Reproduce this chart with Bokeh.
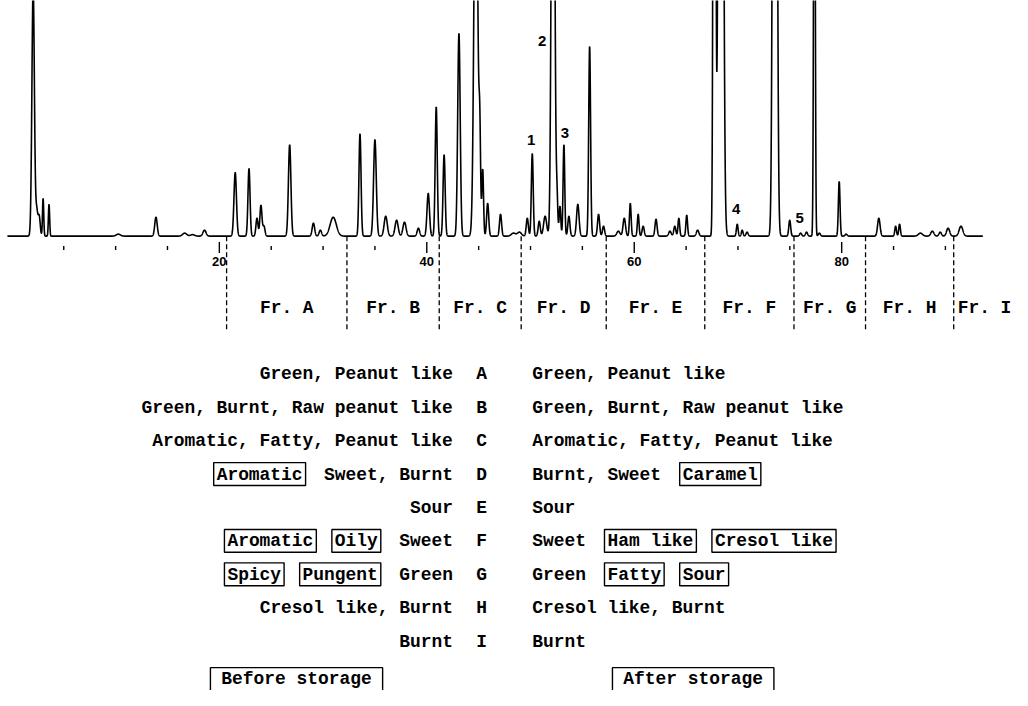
import re
import numpy as np
from bokeh.plotting import figure
from bokeh.models import Range1d
from bokeh.core.properties import value
from bokeh.embed import file_html
from bokeh.resources import INLINE

# ---------------- data ----------------
# retention time (min), peak height (detector units), peak width sigma (min)
peak_time = [2.05, 2.39, 2.63, 3.01, 3.58, 10.26, 13.89, 16.66, 17.42, 18.57,
             21.53, 22.86, 23.63, 24.01, 24.30, 26.78, 29.07, 29.74, 30.98, 33.56,
             35.00, 36.04, 37.09, 37.85, 39.19, 40.14, 40.91, 41.67, 43.10, 44.73,
             45.11, 45.39, 45.87, 47.11, 48.35, 48.93, 49.69, 50.17, 50.84, 51.41,
             52.17, 52.55, 52.84, 53.22, 53.70, 54.56, 55.70, 56.56, 57.04, 58.47,
             59.04, 59.62, 60.38, 60.86, 62.10, 63.44, 63.91, 64.30, 65.06, 66.11,
             67.73, 68.35, 69.93, 70.41, 70.88, 73.56, 74.99, 76.04, 76.61, 77.37,
             77.85, 79.76, 80.43, 83.58, 85.20, 85.58, 87.59, 88.74, 89.50, 90.26,
             91.50]
peak_height = [250, 25, 20, 38, 32, 2, 19, 3, 1.5, 6,
               64, 68, 18, 31, 10, 92, 13, 6, 19, 103,
               97, 20, 16, 14, 8, 43, 130, 82, 204, 450,
               95, 67, 33, 22, 3, 4, 18, 83, 15, 20,
               700, 38, 30, 92, 20, 32, 191, 22, 10, 5,
               18, 33, 22, 10, 17, 5, 10, 18, 21, 6,
               1500, 1500, 12, 6, 4, 1500, 16, 3, 4, 600,
               3, 55, 2, 18, 10, 12, 3, 5, 4, 8,
               10]
peak_sigma = [0.12, 0.10, 0.10, 0.06, 0.06, 0.20, 0.12, 0.20, 0.20, 0.15,
              0.12, 0.10, 0.10, 0.10, 0.10, 0.12, 0.12, 0.12, 0.30, 0.10,
              0.13, 0.15, 0.15, 0.15, 0.12, 0.12, 0.10, 0.10, 0.12, 0.17,
              0.08, 0.08, 0.10, 0.10, 0.20, 0.20, 0.10, 0.09, 0.10, 0.15,
              0.14, 0.08, 0.08, 0.08, 0.10, 0.12, 0.09, 0.10, 0.10, 0.15,
              0.12, 0.08, 0.08, 0.10, 0.10, 0.12, 0.10, 0.08, 0.08, 0.12,
              0.09, 0.17, 0.08, 0.08, 0.10, 0.15, 0.09, 0.10, 0.10, 0.07,
              0.10, 0.08, 0.10, 0.12, 0.08, 0.08, 0.20, 0.15, 0.12, 0.15,
              0.18]

minor_ticks = [5, 10, 15, 25, 30, 35, 45, 50, 55, 65, 70, 75, 85, 90]
major_ticks = [20, 40, 60, 80]
major_tick_labels = ["20", "40", "60", "80"]

# numbered peaks: id, retention time, label level (detector units), label shift (px)
peak_ids = ["1", "2", "3", "4", "5"]
peak_id_times = [50.17, 52.17, 53.22, 69.93, 76.04]
peak_id_levels = [97, 196, 104, 27, 18]
peak_id_shift = [-1, -11, 1, -1, -1]

fraction_names = ["A", "B", "C", "D", "E", "F", "G", "H", "I"]
fraction_bounds = [20.7, 32.3, 41.2, 49.1, 57.3, 66.8, 75.4, 82.3, 90.8]

# [word] = boxed descriptor
odor_before = ["Green, Peanut like",
               "Green, Burnt, Raw peanut like",
               "Aromatic, Fatty, Peanut like",
               "[Aromatic]  Sweet, Burnt",
               "Sour",
               "[Aromatic]  [Oily]  Sweet",
               "[Spicy]  [Pungent]  Green",
               "Cresol like, Burnt",
               "Burnt"]
odor_after = ["Green, Peanut like",
              "Green, Burnt, Raw peanut like",
              "Aromatic, Fatty, Peanut like",
              "Burnt, Sweet  [Caramel]",
              "Sour",
              "Sweet  [Ham like]  [Cresol like]",
              "Green  [Fatty]  [Sour]",
              "Cresol like, Burnt",
              "Burnt"]
storage_labels = ["Before storage", "After storage"]

# ---------------- layout helpers ----------------
W, H = 1012, 690
X0_PX, PX_PER_MIN = 17.5, 10.475
BASE_PX = 249
REF_L, REF_R, REF_T, REF_B = 6, 1028, 12, 706


def tmin(px):
    return (px - X0_PX) / PX_PER_MIN


def lev(py):
    return BASE_PX - py


SX = W / (REF_R - REF_L)
CW = 10.85
MONO = value(f"{CW * SX / 0.6001:.2f}px")
MONO_FONT = value("Liberation Mono")
SANS_FONT = value("Liberation Sans")

p = figure(width=W, height=H,
           x_range=Range1d(tmin(REF_L), tmin(REF_R)),
           y_range=Range1d(lev(REF_B), lev(REF_T)),
           output_backend="svg", toolbar_location=None,
           x_axis_location=None, y_axis_location=None, min_border=0)
p.grid.visible = False
p.outline_line_color = None
p.background_fill_color = "white"
p.border_fill_color = "white"

# ---------------- chromatogram ----------------
t = np.linspace(tmin(13), tmin(998), 9000)
sig = np.zeros_like(t)
for t0, h, s in zip(peak_time, peak_height, peak_sigma):
    sig += h * np.exp(-0.5 * ((t - t0) / s) ** 2)
p.line(t, sig, line_color="black", line_width=1.6)

# ticks
p.segment(x0=minor_ticks, y0=[lev(259)] * len(minor_ticks),
          x1=minor_ticks, y1=[lev(263)] * len(minor_ticks),
          line_color="black", line_width=1.4)
p.segment(x0=major_ticks, y0=[lev(255)] * len(major_ticks),
          x1=major_ticks, y1=[lev(266)] * len(major_ticks),
          line_color="black", line_width=1.4)
p.text(x=major_ticks, y=[lev(275)] * len(major_ticks), text=major_tick_labels,
       text_font=SANS_FONT, text_font_style="bold", text_font_size=value("13px"),
       text_align="center", text_baseline="middle", text_color="black")

# numbered peaks
p.text(x=[tt + d / PX_PER_MIN for tt, d in zip(peak_id_times, peak_id_shift)],
       y=peak_id_levels, text=peak_ids,
       text_font=SANS_FONT, text_font_style="bold", text_font_size=value("15px"),
       text_align="center", text_baseline="middle", text_color="black")

# fraction dividers and labels
p.segment(x0=fraction_bounds, y0=[lev(249)] * 9, x1=fraction_bounds, y1=[lev(345)] * 9,
          line_color="black", line_width=1.3, line_dash="5 3")
for i, n in enumerate(fraction_names):
    if i + 1 < len(fraction_bounds):
        x, a = (fraction_bounds[i] + fraction_bounds[i + 1]) / 2, "center"
    else:
        x, a = fraction_bounds[i] + 4 / PX_PER_MIN, "left"
    p.text(x=[x], y=[lev(321)], text=[f"Fr. {n}"], text_font=MONO_FONT,
           text_font_style="bold", text_font_size=MONO, text_align=a,
           text_baseline="middle", text_color="black")


# ---------------- odour table ----------------
def parse(s):
    plain, spans, start = "", [], 0
    for ch in s:
        if ch == "[":
            start = len(plain)
        elif ch == "]":
            spans.append((start, len(plain)))
        else:
            plain += ch
    return plain, spans


ROW0, ROW_STEP = 388, 33.6
LEFT_END, RIGHT_START, MID_X = 463, 543, 492
tx, ty, tt = [], [], []
bl, br, bt, bb = [], [], [], []


def add_line(plain, x0, cy):
    # each run of text separated by a double space is placed on its own
    for m in re.finditer(r"\S+(?: \S+)*", plain):
        tx.append(tmin(x0 + m.start() * CW)); ty.append(lev(cy)); tt.append(m.group())


for i, (fb, fa_, name) in enumerate(zip(odor_before, odor_after, fraction_names)):
    cy = ROW0 + ROW_STEP * i
    for s, side in ((fb, "L"), (fa_, "R")):
        plain, spans = parse(s)
        x0 = LEFT_END - len(plain) * CW if side == "L" else RIGHT_START
        add_line(plain, x0, cy)
        for a, b in spans:
            bl.append(tmin(x0 + a * CW - 3)); br.append(tmin(x0 + b * CW + 3))
            bt.append(lev(cy - 12)); bb.append(lev(cy + 11))
    tx.append(tmin(MID_X - CW / 2)); ty.append(lev(cy)); tt.append(name)

# storage labels
cy = 694
for lab, x0 in zip(storage_labels, (229, 635)):
    add_line(lab, x0, cy)
    bl.append(tmin(x0 - 11)); br.append(tmin(x0 + len(lab) * CW + 11))
    bt.append(lev(cy - 11)); bb.append(lev(cy + 20))

p.text(x=tx, y=ty, text=tt, text_font=MONO_FONT, text_font_style="bold",
       text_font_size=MONO, text_align="left", text_baseline="middle",
       text_color="black")
p.quad(left=bl, right=br, top=bt, bottom=bb, fill_color=None,
       line_color="black", line_width=1.4)

open("out.html", "w").write(file_html(p, INLINE))
